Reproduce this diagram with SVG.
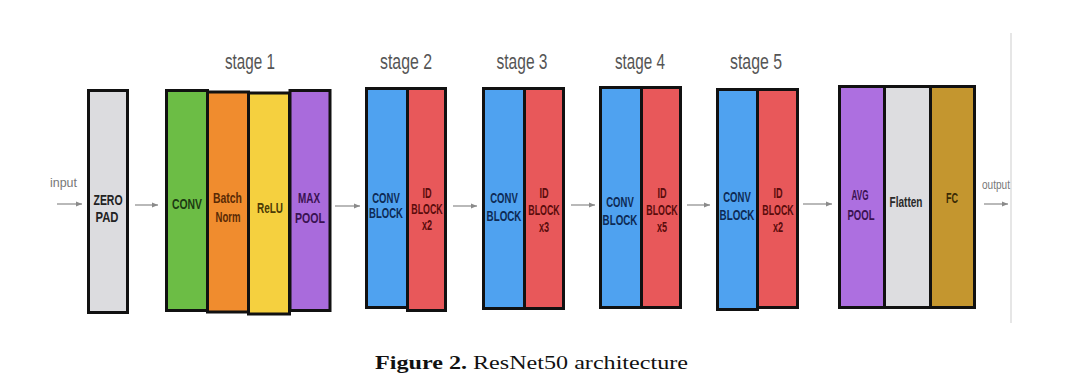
<svg xmlns="http://www.w3.org/2000/svg" width="1092" height="387" viewBox="0 0 1092 387">
<style>
.box{stroke:#111;stroke-width:3}
.lbl{font-family:"Liberation Sans",Arial,sans-serif;font-weight:bold;font-size:14px;text-anchor:middle}
.stage{font-family:"Liberation Sans",Arial,sans-serif;font-size:22px;fill:#555;text-anchor:middle}
.io{font-family:"Liberation Sans",Arial,sans-serif;font-size:12px;fill:#777}
.conn{stroke:#8a8a8a;stroke-width:1.2;fill:none;marker-end:url(#ah)}
.cb{fill:#0d2a55}
.ib{fill:#5a0c0c}
</style>
<defs>
<marker id="ah" markerWidth="7" markerHeight="6" refX="6" refY="3" orient="auto" markerUnits="userSpaceOnUse">
<path d="M0,0.5 L6,3 L0,5.5 Z" fill="#8a8a8a"/>
</marker>
</defs>
<rect width="1092" height="387" fill="#fff"/>
<line x1="1011" y1="33" x2="1011" y2="323" stroke="#dedede" stroke-width="1.5"/>

<g id="stage-labels">
<text class="stage" x="250" y="69" textLength="50" lengthAdjust="spacingAndGlyphs">stage 1</text>
<text class="stage" x="406" y="69" textLength="52" lengthAdjust="spacingAndGlyphs">stage 2</text>
<text class="stage" x="522" y="69" textLength="51" lengthAdjust="spacingAndGlyphs">stage 3</text>
<text class="stage" x="640" y="69" textLength="50" lengthAdjust="spacingAndGlyphs">stage 4</text>
<text class="stage" x="756" y="69" textLength="52" lengthAdjust="spacingAndGlyphs">stage 5</text>
</g>

<g id="connectors">
<line class="conn" x1="57" y1="204" x2="82" y2="204"/>
<line class="conn" x1="135" y1="205" x2="158" y2="205"/>
<line class="conn" x1="335" y1="206" x2="360" y2="206"/>
<line class="conn" x1="453" y1="206" x2="477" y2="206"/>
<line class="conn" x1="571" y1="205" x2="595" y2="205"/>
<line class="conn" x1="687" y1="205" x2="710" y2="205"/>
<line class="conn" x1="803" y1="204" x2="832" y2="204"/>
<line class="conn" x1="984" y1="204" x2="1008" y2="204"/>
</g>

<g id="input"><text class="io" x="50" y="187" textLength="27" lengthAdjust="spacingAndGlyphs">input</text></g>
<g id="output"><text class="io" x="982" y="189" textLength="28" lengthAdjust="spacingAndGlyphs">output</text></g>

<g id="zero-pad">
<rect class="box" x="88.5" y="90.5" width="39" height="222" fill="#dcdcdf"/>
<text class="lbl" fill="#222" x="108" y="205" textLength="29" lengthAdjust="spacingAndGlyphs">ZERO</text>
<text class="lbl" fill="#222" x="107" y="222" textLength="23" lengthAdjust="spacingAndGlyphs">PAD</text>
</g>

<g id="s1-conv">
<rect class="box" x="166.5" y="90.5" width="41" height="220" fill="#6cbd45"/>
<text class="lbl" fill="#1c3a12" x="187" y="209" textLength="30" lengthAdjust="spacingAndGlyphs">CONV</text>
</g>
<g id="s1-batchnorm">
<rect class="box" x="207.5" y="92" width="41" height="220" fill="#f08c2e"/>
<text class="lbl" fill="#5a2a05" x="227.5" y="203" textLength="29" lengthAdjust="spacingAndGlyphs">Batch</text>
<text class="lbl" fill="#5a2a05" x="228" y="222" textLength="25" lengthAdjust="spacingAndGlyphs">Norm</text>
</g>
<g id="s1-relu">
<rect class="box" x="248.5" y="93" width="41" height="221" fill="#f5d03f"/>
<text class="lbl" fill="#4a3a05" x="270" y="213" textLength="26" lengthAdjust="spacingAndGlyphs">ReLU</text>
</g>
<g id="s1-maxpool">
<rect class="box" x="290" y="90.5" width="40" height="220" fill="#a96bdc"/>
<text class="lbl" fill="#3a1252" x="309" y="203" textLength="22" lengthAdjust="spacingAndGlyphs">MAX</text>
<text class="lbl" fill="#3a1252" x="310" y="223" textLength="30" lengthAdjust="spacingAndGlyphs">POOL</text>
</g>

<g id="s2-conv">
<rect class="box" x="366.5" y="88.5" width="41" height="219" fill="#4fa2f0"/>
<text class="lbl cb" transform="translate(386,203) scale(0.68,1)">CONV</text>
<text class="lbl cb" transform="translate(386,218) scale(0.68,1)">BLOCK</text>
</g>
<g id="s2-id">
<rect class="box" x="407.5" y="88.5" width="38" height="222" fill="#e8585a"/>
<text class="lbl ib" transform="translate(427,198) scale(0.65,1)">ID</text>
<text class="lbl ib" transform="translate(427,214) scale(0.63,1)">BLOCK</text>
<text class="lbl ib" transform="translate(427,230) scale(0.65,1)">x2</text>
</g>

<g id="s3-conv">
<rect class="box" x="483.5" y="88.5" width="41" height="220" fill="#4fa2f0"/>
<text class="lbl cb" transform="translate(504,203) scale(0.68,1)">CONV</text>
<text class="lbl cb" transform="translate(504,221) scale(0.7,1)">BLOCK</text>
</g>
<g id="s3-id">
<rect class="box" x="524.5" y="88.5" width="39" height="220" fill="#e8585a"/>
<text class="lbl ib" transform="translate(544,198) scale(0.65,1)">ID</text>
<text class="lbl ib" transform="translate(544,215) scale(0.63,1)">BLOCK</text>
<text class="lbl ib" transform="translate(544,232) scale(0.65,1)">x3</text>
</g>

<g id="s4-conv">
<rect class="box" x="600.5" y="87.5" width="41" height="220" fill="#4fa2f0"/>
<text class="lbl cb" transform="translate(620,207) scale(0.68,1)">CONV</text>
<text class="lbl cb" transform="translate(620,225) scale(0.7,1)">BLOCK</text>
</g>
<g id="s4-id">
<rect class="box" x="641.5" y="87.5" width="39" height="220" fill="#e8585a"/>
<text class="lbl ib" transform="translate(662,198) scale(0.65,1)">ID</text>
<text class="lbl ib" transform="translate(662,215) scale(0.63,1)">BLOCK</text>
<text class="lbl ib" transform="translate(662,232) scale(0.65,1)">x5</text>
</g>

<g id="s5-conv">
<rect class="box" x="717.5" y="89.5" width="40" height="220" fill="#4fa2f0"/>
<text class="lbl cb" transform="translate(737,202) scale(0.68,1)">CONV</text>
<text class="lbl cb" transform="translate(737,220) scale(0.7,1)">BLOCK</text>
</g>
<g id="s5-id">
<rect class="box" x="757.5" y="89.5" width="40" height="218" fill="#e8585a"/>
<text class="lbl ib" transform="translate(778,198) scale(0.65,1)">ID</text>
<text class="lbl ib" transform="translate(778,215) scale(0.63,1)">BLOCK</text>
<text class="lbl ib" transform="translate(778,232) scale(0.65,1)">x2</text>
</g>

<g id="avg-pool">
<rect class="box" x="839.5" y="86.5" width="45" height="221" fill="#ad6fe0"/>
<text class="lbl" fill="#3a1252" x="860" y="200" textLength="17" lengthAdjust="spacingAndGlyphs">AVG</text>
<text class="lbl" fill="#3a1252" x="861" y="220" textLength="27" lengthAdjust="spacingAndGlyphs">POOL</text>
</g>
<g id="flatten">
<rect class="box" x="884.5" y="86.5" width="46" height="221" fill="#dddde0"/>
<text class="lbl" fill="#2a2a2a" x="906" y="207" textLength="33" lengthAdjust="spacingAndGlyphs">Flatten</text>
</g>
<g id="fc">
<rect class="box" x="930.5" y="86.5" width="44" height="221" fill="#c4962f"/>
<text class="lbl" fill="#3a2a05" x="952" y="203" textLength="12" lengthAdjust="spacingAndGlyphs">FC</text>
</g>

<g id="caption">
<text x="375" y="369" font-family="'Liberation Serif','Times New Roman',serif" font-size="18" fill="#111" textLength="313" lengthAdjust="spacingAndGlyphs"><tspan font-weight="bold">Figure 2.</tspan> ResNet50 architecture</text>
</g>
</svg>
